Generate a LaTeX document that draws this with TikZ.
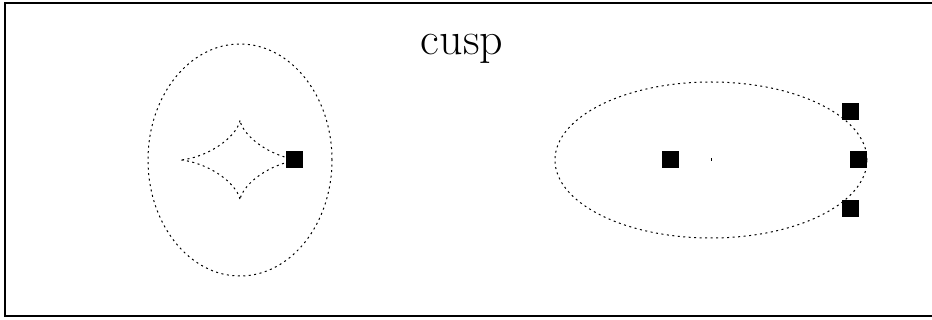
\documentclass[tikz,border=0pt]{standalone}
\usetikzlibrary{shapes.geometric}
\begin{document}
\begin{tikzpicture}[x=1pt,y=-1pt,
  dotline/.style={line width=1pt,dash pattern=on 2pt off 3.5pt},
  pt/.style={fill=black,draw=none,minimum size=17pt,inner sep=0pt,outer sep=0pt,rectangle},
  lbl/.style={font=\fontsize{46}{50}\selectfont,inner sep=0pt}]
\useasboundingbox (0,0) rectangle (932,320);
\begin{scope}
\clip (0,0) rectangle (932,320);
\draw[line width=1.8pt] (5,3) rectangle (940,316);
\end{scope}
\node[lbl,anchor=base] (title) at (462,55) {cusp};
% left ellipse and astroid
\node[ellipse,draw,dotline,minimum width=184pt,minimum height=232pt,inner sep=0pt] (e1) at (240,160) {};
\draw[dotline] plot[domain=0:360,samples=240,smooth] ({240+60*cos(\x)*cos(\x)*cos(\x)},{160+40*sin(\x)*sin(\x)*sin(\x)});
\node[pt] (a) at (294,160) {};
% right ellipse
\node[ellipse,draw,dotline,minimum width=312pt,minimum height=156pt,inner sep=0pt] (e2) at (711,160) {};
\fill (710.5,158.5) rectangle (711.5,161.5);
\node[pt] (b) at (670.5,160) {};
\node[pt] (c1) at (850.5,111.5) {};
\node[pt] (c2) at (858,160) {};
\node[pt] (c3) at (850.5,208.5) {};
\end{tikzpicture}
\end{document}
